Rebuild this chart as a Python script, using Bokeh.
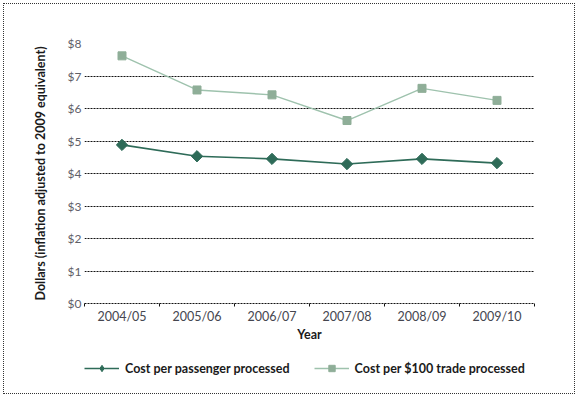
import math
from bokeh.plotting import figure
from bokeh.layouts import column
from bokeh.models import (FixedTicker, NumeralTickFormatter, Legend, LegendItem,
                          Range1d, CustomJSTickFormatter)
from bokeh.embed import file_html
from bokeh.resources import INLINE

years = ["2004/05", "2005/06", "2006/07", "2007/08", "2008/09", "2009/10"]
passenger = [4.88, 4.53, 4.45, 4.29, 4.45, 4.32]
trade = [7.62, 6.57, 6.42, 5.63, 6.62, 6.25]
y_ticks = [0, 1, 2, 3, 4, 5, 6, 7, 8]
series_names = ["Cost per passenger processed", "Cost per $100 trade processed"]

FONT = "Lato"
C1_LINE, C1_MARK = "#2E6B58", "#2E6B58"
C2_LINE, C2_MARK = "#9EC2AD", "#8FAE98"
xs = [i + 0.5 for i in range(len(years))]

p = figure(frame_width=450, frame_height=260,
           output_backend="svg", toolbar_location=None,
           x_range=Range1d(0, len(years)), y_range=Range1d(0, 8),
           min_border_left=80, min_border_top=39, min_border_right=40,
           min_border_bottom=44)
p.outline_line_color = None
p.background_fill_color = "white"
p.border_fill_color = "white"

# grid
p.xgrid.visible = False
p.ygrid.ticker = FixedTicker(ticks=y_ticks)
p.ygrid.grid_line_color = "#111111"
p.ygrid.grid_line_dash = "2 1"
p.ygrid.grid_line_width = 1

# y axis
p.yaxis.ticker = FixedTicker(ticks=y_ticks)
p.yaxis.formatter = NumeralTickFormatter(format="$0")
p.yaxis.axis_line_color = None
p.yaxis.major_tick_line_color = None
p.yaxis.minor_tick_line_color = None
p.yaxis.major_tick_out = 0
p.yaxis.minor_tick_out = 0
p.yaxis.major_label_standoff = 3
p.yaxis.major_label_text_font = FONT
p.yaxis.major_label_text_font_size = "12px"
p.yaxis.major_label_text_color = "#5f6068"
p.yaxis.axis_label = "Dollars (inflation adjusted to 2009 equivalent)"
p.yaxis.axis_label_text_font = FONT
p.yaxis.axis_label_text_font_style = "bold"
p.yaxis.axis_label_text_font_size = "12.5px"
p.yaxis.axis_label_text_color = "#1a1a1a"
p.yaxis.axis_label_standoff = 17

# x axis
p.xaxis.ticker = FixedTicker(ticks=xs, minor_ticks=list(range(len(years) + 1)))
p.xaxis.formatter = CustomJSTickFormatter(args=dict(labels=years),
                                          code="return labels[Math.floor(tick)];")
p.xaxis.axis_line_color = "#111111"
p.xaxis.axis_line_dash = "2 1"
p.xaxis.major_tick_line_color = None
p.xaxis.major_tick_out = 0
p.xaxis.major_tick_in = 0
p.xaxis.minor_tick_line_color = "#111111"
p.xaxis.minor_tick_in = 0
p.xaxis.minor_tick_out = 3
p.xaxis.major_label_standoff = 2
p.xaxis.major_label_text_font = FONT
p.xaxis.major_label_text_font_size = "12.5px"
p.xaxis.major_label_text_color = "#45464f"
p.xaxis.axis_label = "Year"
p.xaxis.axis_label_text_font = FONT
p.xaxis.axis_label_text_font_style = "bold"
p.xaxis.axis_label_text_font_size = "12.5px"
p.xaxis.axis_label_text_color = "#1a1a1a"
p.xaxis.axis_label_standoff = 0

# series
p.line(xs, passenger, line_color=C1_LINE, line_width=1.6)
p.scatter(xs, passenger, marker="square", size=8, angle=math.pi / 4,
          fill_color=C1_MARK, line_color=C1_MARK)
p.line(xs, trade, line_color=C2_LINE, line_width=1.4)
p.scatter(xs, trade, marker="square", size=8, fill_color=C2_MARK, line_color=C2_MARK)

# legend strip (same series, drawn off-frame so only the legend keys show)
lf = figure(width=570, height=46, output_backend="svg", toolbar_location=None,
            x_range=Range1d(100, 101), y_range=Range1d(0, 8),
            x_axis_type=None, y_axis_type=None, min_border=0)
lf.outline_line_color = None
lf.xgrid.visible = False
lf.ygrid.visible = False
r1 = lf.line(xs, passenger, line_color=C1_LINE, line_width=1.6)
s1 = lf.scatter(xs, passenger, marker="diamond", size=12,
                fill_color=C1_MARK, line_color=C1_MARK)
r2 = lf.line(xs, trade, line_color=C2_LINE, line_width=1.4)
s2 = lf.scatter(xs, trade, marker="square", size=8, fill_color=C2_MARK,
                line_color=C2_MARK)

legend = Legend(items=[LegendItem(label=series_names[0], renderers=[r1, s1]),
                       LegendItem(label=series_names[1], renderers=[r2, s2])],
                orientation="horizontal", location=(0, 17),
                glyph_width=35, glyph_height=16, spacing=24, label_standoff=6,
                label_text_font=FONT, label_text_font_size="12.5px",
                label_text_font_style="bold", label_text_color="#1a1a1a",
                border_line_color=None, background_fill_alpha=0,
                margin=0, padding=0)
lf.add_layout(legend, "center")

lay = column(p, lf, spacing=0, margin=(3, 2, 3, 3),
             styles={"border": "1px dotted #333333"})

open("out.html", "w").write(file_html(lay, INLINE))
